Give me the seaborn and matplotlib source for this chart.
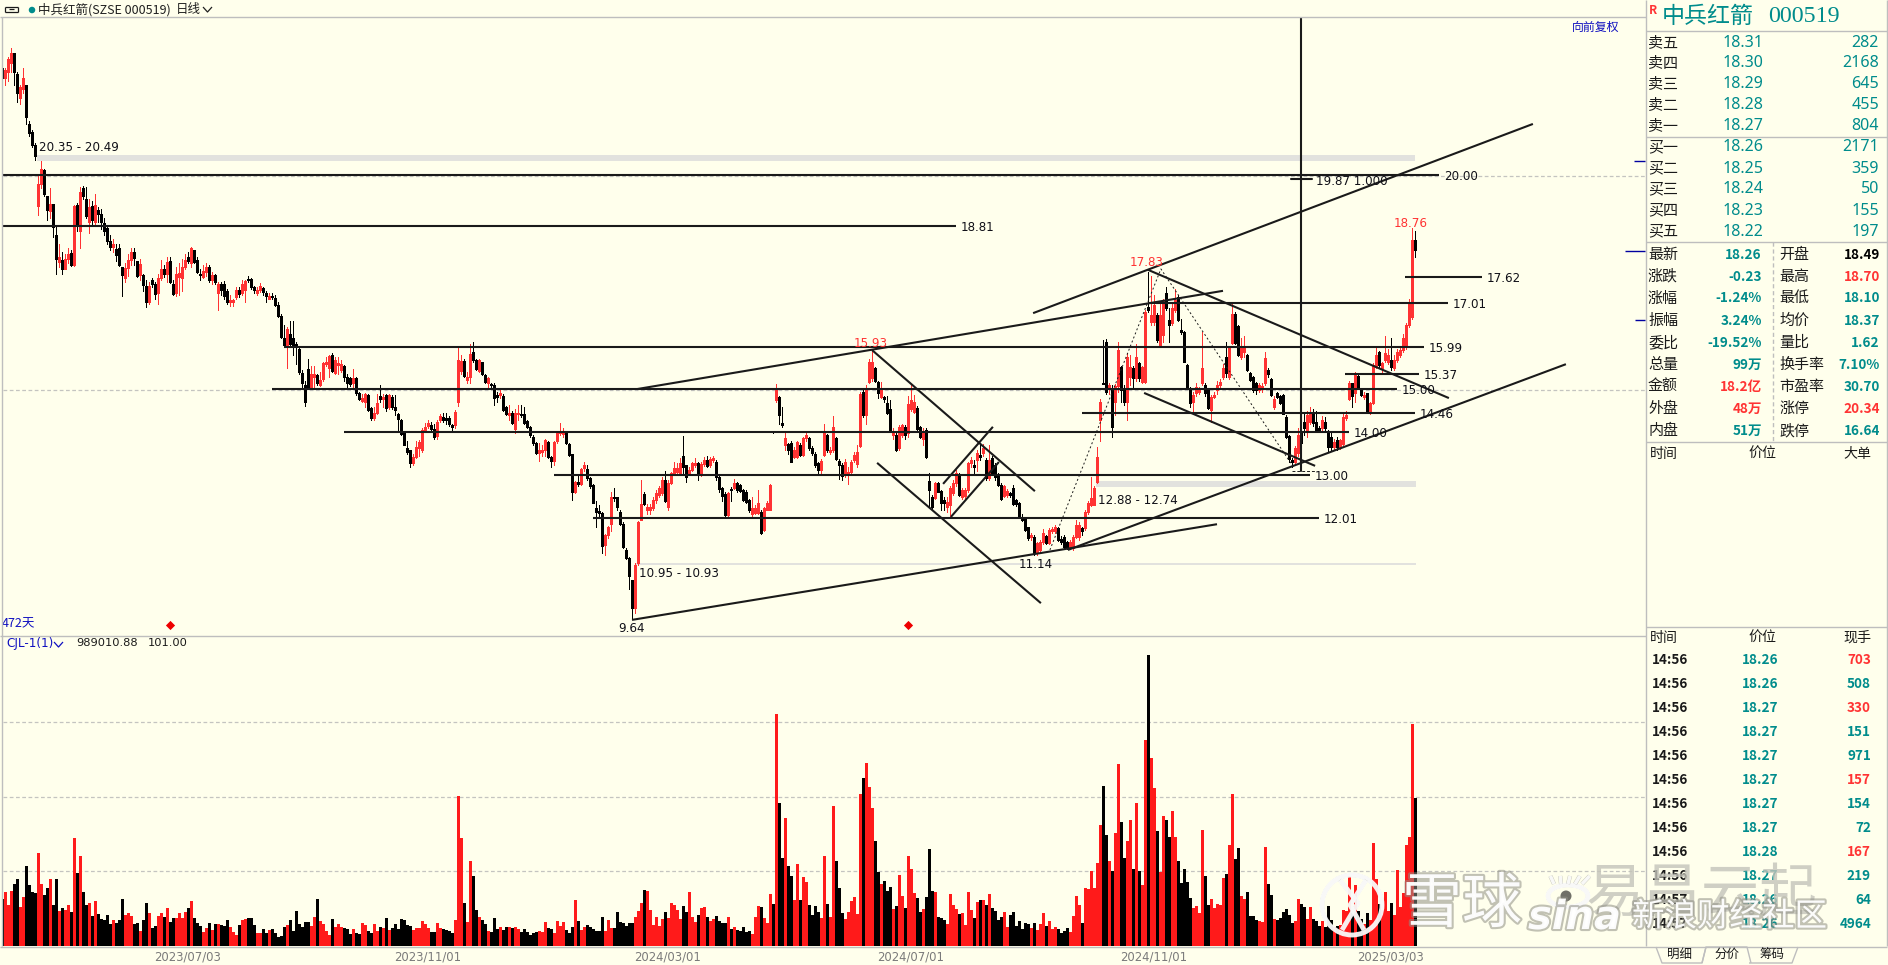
import matplotlib
matplotlib.use("Agg")
import matplotlib.pyplot as plt
import matplotlib.patheffects as pe
from matplotlib.lines import Line2D
from matplotlib.patches import Ellipse, Polygon
import numpy as np
import pandas as pd
import seaborn as sns

# ---------- candle data (yuan), one value per trading day ----------
opens = [
22.5,22.25,22.4,22.6,22.85,22.35,21.8,22.0,22.1,21.2,
21.0,20.7,19.28,19.8,20.12,19.5,19.15,19.33,18.6,17.98,
18.03,17.82,18.05,18.18,17.9,19.3,18.7,19.7,19.45,18.9,
19.28,18.9,19.18,19.1,18.87,18.77,18.45,18.33,18.28,18.3,
17.85,17.6,17.83,18.03,18.2,18.0,17.67,17.66,17.42,17.03,
17.55,17.45,17.25,17.6,17.8,17.7,18.0,17.47,17.25,17.63,
17.6,17.86,18.1,17.94,18.25,18.02,17.7,17.63,17.75,17.86,
17.55,17.67,17.25,17.45,17.45,17.3,17.05,17.05,17.15,17.33,
17.25,17.32,17.57,17.57,17.4,17.26,17.33,17.36,17.26,17.12,
17.18,17.14,16.97,16.72,16.2,16.0,16.3,16.2,16.05,15.95,
15.38,15.1,15.47,15.03,15.3,15.34,15.1,15.25,15.6,15.5,
15.8,15.39,15.57,15.45,15.55,15.3,15.26,15.14,15.27,14.93,
14.74,14.72,14.87,14.56,14.33,14.46,14.85,14.79,14.87,14.6,
14.83,14.6,14.44,14.3,13.98,13.63,13.59,13.29,13.43,13.63,
13.6,14.03,14.15,14.17,14.09,13.92,14.29,14.37,14.33,14.34,
14.17,14.17,14.72,15.42,15.66,15.22,15.3,15.88,15.69,15.42,
15.63,15.34,15.14,15.13,15.1,14.87,14.87,14.85,14.6,14.41,
14.45,14.09,14.44,14.42,14.42,14.27,14.13,13.9,13.76,13.51,
13.55,13.59,13.78,13.42,13.34,13.8,13.98,13.96,13.98,13.74,
13.49,12.6,12.85,12.8,13.16,13.14,12.93,12.77,12.23,12.16,
12.11,11.37,11.61,11.87,12.5,12.5,12.15,11.87,11.26,11.08,
10.56,9.9,10.95,11.96,12.56,12.18,12.2,12.23,12.42,12.54,
12.58,12.9,12.25,12.82,13.05,13.07,13.03,13.45,13.23,13.03,
13.12,13.24,13.28,13.01,13.26,13.36,13.24,13.36,13.32,12.97,
12.7,12.56,12.07,12.68,12.7,12.82,12.78,12.66,12.62,12.42,
12.09,12.13,12.13,12.15,11.72,12.2,12.2,14.02,14.76,14.82,
14.21,13.71,13.73,13.76,13.43,13.43,13.71,13.47,13.86,13.88,
13.63,13.5,13.28,13.12,13.47,13.94,13.55,13.59,13.86,13.33,
13.24,13.0,13.0,13.08,13.36,13.26,13.68,14.95,14.41,15.18,
15.26,15.5,15.18,14.83,14.82,14.68,14.54,13.94,13.94,13.63,
13.94,14.13,13.98,14.54,14.48,14.58,14.12,13.84,14.06,12.87,
12.5,12.46,12.81,12.64,12.42,12.27,12.31,12.58,12.81,13.01,
12.5,12.52,12.66,13.28,13.24,13.36,13.47,13.51,13.36,12.93,
13.4,13.24,13.03,12.78,12.52,12.54,12.59,12.7,12.42,12.35,
12.03,12.0,11.79,11.57,11.57,11.2,11.26,11.45,11.58,11.43,
11.71,11.71,11.76,11.52,11.57,11.45,11.3,11.3,11.57,11.57,
11.76,11.76,12.15,12.31,12.31,12.85,14.29,15.15,16.1,15.03,
14.99,14.72,15.07,15.53,14.99,14.72,15.3,15.49,15.26,15.61,
15.18,15.18,16.93,16.58,16.58,16.74,16.0,16.27,17.24,16.62,
16.54,16.85,17.16,16.39,16.35,15.57,15.03,14.72,14.91,14.95,
15.14,15.1,14.99,14.52,14.83,14.99,15.1,15.3,15.76,15.3,
16.08,16.77,16.48,15.76,15.88,15.8,15.38,15.3,15.16,14.99,
15.03,15.14,15.45,15.24,14.6,14.93,14.85,14.87,14.37,13.92,
13.36,13.32,13.51,14.0,14.25,14.02,14.25,14.46,14.25,14.1,
14.1,14.25,13.98,13.9,13.67,13.82,13.67,13.74,14.33,14.79,
15.14,14.91,15.31,14.99,14.83,14.91,14.48,14.68,15.53,15.87,
15.49,15.69,15.65,15.69,15.49,15.69,15.8,15.92,16.0,16.5,16.7,18.49]

closes = [
22.25,22.45,22.7,22.85,22.4,21.9,22.05,22.25,21.35,20.98,
20.7,20.45,19.8,20.13,19.55,19.18,19.32,18.78,18.05,18.1,
17.82,18.05,18.17,17.9,19.28,18.85,19.6,19.5,19.05,19.25,
18.95,19.3,19.1,18.9,18.7,18.45,18.32,18.38,18.13,17.9,
17.68,17.83,18.03,18.2,18.07,17.65,17.92,17.43,17.03,17.42,
17.45,17.22,17.6,17.82,17.7,17.98,17.5,17.22,17.7,17.71,
17.86,18.02,18.0,18.29,17.98,17.75,17.67,17.76,17.86,17.55,
17.67,17.5,17.45,17.32,17.17,17.05,17.08,17.08,17.33,17.22,
17.46,17.52,17.55,17.38,17.32,17.33,17.41,17.28,17.17,17.18,
17.16,16.97,16.72,16.23,16.04,16.42,16.07,16.0,16.0,15.4,
15.14,14.72,15.05,15.36,15.36,15.14,15.22,15.62,15.65,15.77,
15.44,15.69,15.61,15.6,15.3,15.16,15.13,15.26,14.91,14.77,
14.8,14.89,14.52,14.33,14.46,14.69,14.77,14.82,14.56,14.87,
14.6,14.52,14.31,13.96,13.71,13.55,13.28,13.43,13.67,13.78,
14.05,14.13,14.23,14.09,13.89,14.25,14.38,14.3,14.3,14.2,
14.13,14.48,15.69,15.66,15.31,15.28,15.83,15.69,15.47,15.69,
15.36,15.18,15.26,15.1,14.8,14.83,14.91,14.52,14.43,14.45,
14.21,14.45,14.46,14.4,14.21,14.12,13.94,13.76,13.51,13.59,
13.59,13.82,13.42,13.34,13.78,13.98,14.02,14.01,13.76,13.47,
12.6,12.85,12.8,13.14,13.24,12.93,12.76,12.36,12.15,12.12,
11.35,11.61,11.8,12.5,12.46,12.25,11.87,11.32,11.07,10.65,
9.9,10.92,11.92,12.33,12.32,12.27,12.27,12.42,12.58,12.7,
12.9,12.4,12.82,13.05,13.16,13.18,13.28,13.2,12.97,13.12,
13.29,13.29,13.01,13.26,13.36,13.22,13.37,13.4,12.97,12.67,
12.52,12.07,12.58,12.66,12.82,12.66,12.64,12.42,12.37,12.2,
12.23,12.23,12.35,11.65,12.23,12.35,12.77,14.0,14.99,14.41,
14.17,13.86,13.58,13.32,13.59,13.77,13.47,13.86,13.94,13.63,
13.51,13.24,13.12,13.33,13.98,13.6,13.6,14.12,13.37,13.24,
12.98,13.32,13.08,13.32,13.47,13.55,14.9,14.41,15.03,15.65,
15.65,15.2,14.93,14.99,14.77,14.46,14.06,13.98,13.59,14.13,
14.17,13.94,14.66,14.76,14.72,14.09,13.9,14.02,13.42,12.66,
12.27,12.81,12.62,12.35,12.36,12.38,12.7,12.81,13.05,12.54,
12.66,12.66,13.28,13.36,13.2,13.53,13.43,13.63,12.93,13.36,
13.05,12.97,12.78,12.44,12.74,12.64,12.54,12.33,12.33,12.05,
11.96,11.72,11.55,11.61,11.2,11.42,11.45,11.65,11.43,11.72,
11.74,11.79,11.49,11.45,11.34,11.3,11.45,11.57,11.84,11.84,
11.69,12.15,12.36,12.46,12.7,13.43,14.72,15.13,14.95,15.1,
14.13,15.07,15.92,14.99,14.72,15.76,15.53,15.26,15.76,15.26,
15.53,16.81,16.85,16.74,16.97,16.15,16.74,17.08,16.89,16.5,
16.89,17.08,16.63,16.35,15.65,15.03,14.68,14.87,15.06,14.99,
15.49,14.91,14.56,14.83,14.87,15.1,15.18,15.49,15.38,15.96,
16.77,16.08,15.8,15.96,15.96,15.45,15.22,14.99,14.99,15.1,
15.07,15.73,15.36,14.87,14.79,14.83,14.68,14.44,13.9,13.37,
13.32,13.63,13.94,13.75,14.1,14.4,14.48,14.21,14.06,14.06,
14.29,14.1,13.67,13.67,13.78,13.67,13.82,14.37,14.4,15.14,
14.85,15.34,15.03,14.87,14.87,14.48,14.68,15.57,15.8,15.57,
15.61,15.84,15.8,15.53,15.69,15.88,15.92,16.19,16.5,17.05,18.48,18.26]

highs = [
22.55,22.5,22.75,22.95,22.85,22.4,22.1,22.5,22.1,21.25,
21.05,20.75,20.0,20.33,20.15,19.5,19.7,19.33,18.8,18.4,
18.2,18.15,18.3,18.25,19.3,19.35,19.72,19.75,19.72,19.45,
19.4,19.55,19.25,19.2,19.0,18.8,18.6,18.5,18.4,18.4,
17.85,17.95,18.15,18.3,18.3,18.0,18.05,17.7,17.55,17.5,
17.6,17.5,17.7,18.02,17.9,18.1,18.08,17.55,17.85,17.95,
18.05,18.15,18.2,18.32,18.25,18.1,17.8,17.9,17.95,17.9,
17.75,17.7,17.5,17.5,17.52,17.35,17.2,17.1,17.4,17.4,
17.55,17.55,17.65,17.6,17.42,17.4,17.48,17.4,17.3,17.25,
17.25,17.2,17.05,16.75,16.5,16.45,16.6,16.6,16.1,16.0,
15.45,15.2,15.7,15.55,15.55,15.36,15.4,15.65,15.75,15.8,
15.85,15.75,15.75,15.68,15.58,15.35,15.28,15.48,15.3,14.95,
14.9,14.93,14.9,14.6,14.6,14.9,15.1,14.9,14.9,14.9,
14.88,14.88,14.45,14.32,14.0,13.8,13.6,13.5,13.8,13.82,
14.1,14.22,14.3,14.25,14.2,14.3,14.42,14.45,14.45,14.38,
14.2,14.52,16.0,15.8,15.7,15.4,16.05,16.1,15.7,15.7,
15.65,15.36,15.3,15.15,15.15,14.95,15.02,14.9,14.62,14.65,
14.5,14.55,14.65,14.65,14.6,14.3,14.15,13.95,13.78,13.75,
13.7,13.85,13.8,13.45,13.8,14.0,14.22,14.1,14.02,13.75,
13.5,12.87,13.0,13.17,13.3,13.25,12.95,12.8,12.4,12.3,
12.15,11.63,11.82,12.6,12.7,12.5,12.2,11.9,11.3,11.1,
10.56,10.95,11.93,12.9,12.6,12.32,12.33,12.5,12.65,12.75,
12.95,13.1,12.88,13.08,13.3,13.28,13.4,13.92,13.25,13.2,
13.32,13.4,13.3,13.3,13.42,13.45,13.42,13.45,13.35,13.0,
12.72,12.6,12.6,12.72,12.92,12.85,12.8,12.68,12.65,12.45,
12.5,12.3,12.65,12.18,12.25,12.4,12.8,14.02,15.12,14.85,
14.6,14.0,13.75,13.8,13.65,13.8,13.75,13.9,14.02,13.9,
13.68,13.55,13.3,13.38,14.2,13.96,13.65,14.38,13.9,13.38,
13.28,13.38,13.2,13.35,13.55,13.7,14.95,15.0,15.1,15.72,
15.93,15.53,15.2,15.18,14.85,14.85,14.75,14.1,13.98,14.17,
14.2,14.17,14.85,15.1,14.87,14.62,14.15,14.1,14.1,13.05,
12.55,12.85,12.85,12.65,12.5,12.5,12.75,12.9,13.12,13.05,
12.7,12.7,13.32,13.42,13.35,13.58,13.7,13.72,13.4,13.7,
13.45,13.28,13.05,12.82,12.78,12.68,12.62,12.78,12.45,12.38,
12.1,12.0,11.8,11.66,11.6,11.45,11.5,11.75,11.62,11.76,
11.8,11.85,11.8,11.58,11.6,11.48,11.5,11.62,11.95,11.9,
11.8,12.2,12.4,12.96,12.75,13.67,14.78,16.15,16.18,15.15,
15.1,15.12,16.1,15.55,15.1,15.85,15.8,15.55,16.05,15.65,
15.55,16.85,17.75,17.65,17.2,16.78,17.03,17.1,17.38,16.9,
17.0,17.35,17.2,16.65,16.37,15.6,15.05,14.95,15.15,15.05,
16.35,15.15,15.02,14.87,14.95,15.2,15.25,15.6,16.1,16.0,
17.05,16.8,16.5,16.2,16.25,15.82,15.4,15.32,15.18,15.15,
15.15,15.88,15.5,15.26,14.85,14.95,14.88,14.9,14.4,13.95,
13.4,13.68,14.1,14.1,14.45,14.5,14.6,14.55,14.5,14.15,
14.38,14.35,14.05,14.02,13.85,13.9,13.85,14.42,14.5,15.2,
15.16,15.4,15.33,15.02,14.95,14.93,14.72,15.62,16.02,15.9,
15.65,16.25,15.95,16.2,15.8,15.95,16.0,16.3,16.55,17.1,18.76,18.7]

lows = [
22.05,22.1,22.2,22.4,22.1,21.7,21.65,21.9,21.2,20.9,
20.65,20.35,19.07,19.7,19.5,18.95,19.0,18.56,17.7,17.85,
17.7,17.8,17.95,17.88,17.88,18.7,18.3,19.45,19.0,18.65,
18.8,18.85,18.9,18.75,18.6,18.4,18.25,18.2,18.0,17.88,
17.18,17.5,17.65,17.9,17.9,17.63,17.55,17.3,16.92,17.0,
17.4,17.1,17.0,17.55,17.62,17.5,17.48,17.2,17.18,17.2,
17.3,17.8,17.95,17.85,17.95,17.72,17.55,17.6,17.65,17.5,
17.45,17.45,16.85,17.2,17.1,17.0,16.95,16.95,17.1,17.15,
17.2,17.05,17.5,17.35,17.25,17.2,17.28,17.2,17.05,17.1,
17.1,16.95,16.7,16.2,16.0,15.5,16.0,15.8,15.6,15.37,
15.0,14.62,15.0,15.0,15.0,15.1,15.08,15.2,15.55,15.3,
15.4,15.35,15.35,15.4,15.2,15.05,15.08,15.05,14.88,14.75,
14.7,14.6,14.5,14.3,14.3,14.42,14.7,14.6,14.5,14.55,
14.55,14.4,14.0,13.94,13.7,13.5,13.2,13.25,13.4,13.45,
13.55,14.0,14.1,14.05,13.85,13.85,14.25,14.25,14.2,14.15,
14.0,14.1,14.62,15.35,15.3,15.15,15.15,15.65,15.45,15.4,
15.33,15.15,15.05,15.05,14.65,14.7,14.8,14.5,14.4,14.3,
14.2,13.98,14.3,14.35,14.2,14.1,13.9,13.7,13.5,13.34,
13.45,13.45,13.4,13.2,13.25,13.75,13.95,13.9,13.74,13.45,
12.42,12.58,12.75,12.78,13.1,12.9,12.7,12.35,11.8,12.0,
11.2,11.14,11.55,11.7,12.4,12.2,11.85,11.3,11.05,10.35,
9.64,9.78,10.9,11.95,12.3,12.1,12.1,12.2,12.35,12.5,
12.55,12.38,12.2,12.8,13.0,13.02,13.0,13.05,12.85,13.0,
13.1,13.2,12.88,12.98,13.22,13.2,13.2,13.3,12.9,12.6,
12.4,12.0,12.05,12.4,12.68,12.6,12.6,12.4,12.35,12.15,
12.05,12.1,12.1,11.63,11.7,12.18,12.18,13.98,14.7,14.2,
14.13,13.6,13.5,13.3,13.4,13.4,13.45,13.45,13.8,13.6,
13.48,13.2,13.0,13.05,13.45,13.55,13.5,13.55,13.35,12.92,
12.9,12.95,12.8,13.05,13.3,13.2,13.66,14.35,14.2,15.15,
15.2,15.18,14.8,14.8,14.72,14.43,14.04,13.85,13.57,13.6,
13.9,13.85,13.9,14.5,14.45,14.05,13.88,13.7,13.4,12.27,
12.2,12.44,12.6,12.2,12.2,12.15,12.0,12.55,12.75,12.52,
12.45,12.48,12.62,13.2,13.0,13.1,13.35,13.45,12.9,12.9,
13.0,12.9,12.75,12.42,12.5,12.5,12.5,12.3,12.28,12.02,
11.93,11.7,11.5,11.5,11.15,11.14,11.2,11.4,11.4,11.4,
11.65,11.65,11.47,11.4,11.3,11.28,11.28,11.25,11.55,11.5,
11.6,11.72,12.1,12.28,12.3,12.82,13.8,15.13,14.9,14.9,
13.9,14.4,14.95,14.7,14.65,14.3,15.1,15.05,15.2,15.2,
15.15,15.15,16.8,16.5,16.5,16.1,15.98,16.1,16.85,16.1,
16.5,16.8,16.6,16.3,15.63,15.0,14.6,14.45,14.85,14.9,
15.1,14.85,14.54,14.25,14.8,14.9,15.05,15.25,15.3,15.25,
16.05,16.05,15.78,15.7,15.75,15.43,15.2,14.95,14.9,14.95,
14.95,15.1,15.3,14.85,14.55,14.8,14.66,14.42,13.88,13.3,
13.2,13.28,13.45,13.5,13.95,13.9,14.2,14.15,14.02,14.0,
14.05,14.0,13.55,13.6,13.62,13.6,13.62,13.7,14.28,14.75,
14.6,14.7,15.0,14.85,14.78,14.46,14.42,14.66,15.5,15.53,
15.4,15.65,15.6,15.45,15.45,15.65,15.75,15.88,15.95,16.45,16.65,18.1]

# volume in units of 10 000 lots
volumes = [
31.3,36,27.3,36.7,41.3,44.7,26,32.7,53.3,40.7,
36,35.3,62,41.3,34,38.7,44.7,27.3,44.7,23.3,
25.3,24,27.3,22.7,72,48.7,60,36,27.3,28.7,
20,30,21.3,18,17.3,20.7,14.7,17.3,15.3,17.3,
31.3,20.7,22,20,14.7,15.3,10,17.3,28.7,22,
12,13.3,20,22,19.3,25.3,16,18.7,18.7,21.8,
18.7,22.7,25.3,30,18.7,15.3,13.3,9.3,12,15.3,
10.7,14.7,14.7,14,13.3,17.3,12.7,9.3,7.3,14,
17.3,18,18.7,18.7,14,8.7,8.7,11.3,8.7,10.7,
11.3,8.7,6,6.7,12.7,14,17.3,10,23.3,14.7,
12.7,16,16,13.3,19.3,31.3,16.7,14.7,10,7.3,
18,12.7,14.7,12.7,12,11.3,8,11.3,8.7,8,
15.3,14,10,8.7,14.7,10,12.7,12,18.7,10.7,
12,14.7,11.3,18,17.3,14,13.3,10.7,12,12,
16.7,14.7,12,9.3,9.3,15.3,12,11.3,10.7,10,
8.7,17.3,100.7,72,28.7,16,56.7,46.7,24,19.3,
17.3,14.7,10,9.3,18.7,11.3,12.7,10.7,12.7,12.7,
12,12.7,11.3,9.3,11.3,9.3,7.3,8.7,9.3,10,
9.3,16,12,11.3,8.7,16.7,13.3,16,10.7,8.7,
12.7,30.7,16.7,10.7,12.7,14,12.7,11.3,10,10,
19.3,10,17.3,12,12,22.7,16,15.3,13.3,15.3,
15.3,19.3,23.3,28.7,37.3,36.7,24,14,19.3,13.3,
18,22.7,18.7,28.7,27.3,24,18,26.7,22.7,36,
19.3,16,20.7,25.6,26,19.3,16.7,18.4,20,16.7,
15.3,15.3,19.3,11.3,12.7,10.7,10,12.7,9.3,10,
8,19.3,26.7,26,18.7,15.3,34.7,28,155.3,96,
58.7,86,53.3,46.7,30.7,54.7,30.7,46,42.7,27.3,
20.7,26.7,22.7,18.7,60,28,19.3,94,56.7,38.7,
22,18,22.7,30,32.7,21.3,102,112.7,122.7,106.7,
92.7,70,49.3,41.3,43.3,36.7,39.3,24.7,26.7,47.3,
33.3,25.3,60,51.3,35.3,32,22.7,24.7,32.7,64.7,
36.7,36,19.3,18.7,17.3,14.7,34.7,27.3,24.7,21.3,
22,14,36,24,18.7,29.3,30.7,30.7,27.3,34.7,
25.3,23.3,17.3,19.3,22.7,12.7,20.7,22.7,13.3,16.7,
11.3,15.3,14.7,12,15.3,10.7,14.7,22,13.3,16.7,
11.3,12.7,11.3,8.7,10,12,9.3,20,33.3,27.3,
15.3,38.7,38,50,38.7,55.3,81.3,107.3,74,56.7,
50,76,122,83.3,58.7,70,84.7,51.3,96,50,
40.7,138,194.7,126,106,77.3,49.3,87.3,84.7,73.3,
90.7,73.3,56.7,42,51.3,42.7,32,25.3,26.7,22,
78,46.7,27.3,31.3,25.3,28,27.3,45.3,48,67.3,
102,58,65.8,33.3,31.3,36,20,20,17.3,16.7,
16,66,41.3,34,18,17.3,18.7,22.7,24.7,20.7,
15.3,16.7,31.3,28,26,18,26,18,16.7,13.3,
16.7,12.7,26.7,17.3,12.7,13.3,14,24,23.3,46.7,
22,40.7,23.3,18,15,22,17.3,69.3,44.7,28,
24,36,23.3,28.7,20.7,50.7,26,35.3,67.3,72.7,148.7,98.9]

# horizontal levels: price, first bar, last bar, label
level_prices = [20.00, 18.81, 15.99, 15.00, 14.00, 13.00, 12.01, 14.46, 15.37, 17.01, 17.62]
level_starts = [-1, -1, 94, 90, 114, 184, 197, 360, 447.7, 382, 467.7]
level_ends = [479, 318, 474, 465, 449, 436, 439, 471, 472.3, 482, 493.3]

# zones: low, high, first bar, last bar
zone_lows = [20.33, 12.73, 10.92]
zone_highs = [20.47, 12.87, 10.96]
zone_starts = [11.7, 364.7, 211]
zone_ends = [471, 471.5, 471.5]
zone_labels = ["20.35 - 20.49", "12.88 - 12.74", "10.95 - 10.93"]

# trend lines: (bar, price) end points
trend_bars = [(210, 405), (355.3, 521.3), (343.7, 510.3), (211.7, 407), (290, 344.3),
              (291.7, 346.3), (313.7, 330.3), (316.3, 332.3), (382, 482.3), (380.7, 437.7)]
trend_prices = [(9.63, 11.86), (11.26, 15.59), (16.78, 21.19), (15.01, 17.30), (15.92, 12.63),
                (13.29, 10.02), (12.80, 14.13), (12.03, 13.31), (17.79, 14.80), (14.92, 13.22)]
dotted_bars = [349.3, 386.3, 430.7]
dotted_prices = [11.26, 17.81, 13.17]

date_bars = [62, 142, 222, 303, 384, 463]
date_labels = ["2023/07/03", "2023/11/01", "2024/03/01", "2024/07/01", "2024/11/01", "2025/03/03"]

# quote panel
ask_labels = ["卖五", "卖四", "卖三", "卖二", "卖一", "买一", "买二", "买三", "买四", "买五"]
book_prices = ["18.31", "18.30", "18.29", "18.28", "18.27", "18.26", "18.25", "18.24", "18.23", "18.22"]
book_sizes = ["282", "2168", "645", "455", "804", "2171", "359", "50", "155", "197"]
stat_left_names = ["最新", "涨跌", "涨幅", "振幅", "委比", "总量", "金额", "外盘", "内盘"]
stat_left_values = ["18.26", "-0.23", "-1.24%", "3.24%", "-19.52%", "99万", "18.2亿", "48万", "51万"]
stat_left_colors = ["t", "t", "t", "t", "t", "t", "r", "r", "t"]
stat_right_names = ["开盘", "最高", "最低", "均价", "量比", "换手率", "市盈率", "涨停", "跌停"]
stat_right_values = ["18.49", "18.70", "18.10", "18.37", "1.62", "7.10%", "30.70", "20.34", "16.64"]
stat_right_colors = ["k", "r", "t", "t", "t", "t", "t", "r", "t"]
tick_times = ["14:56"] * 10 + ["14:57", "14:57"]
tick_prices = ["18.26", "18.26", "18.27", "18.27", "18.27", "18.27", "18.27", "18.27", "18.28", "18.27", "18.26", "18.26"]
tick_sizes = ["703", "508", "330", "151", "971", "157", "154", "72", "167", "219", "64", "4964"]
tick_colors = ["r", "t", "r", "t", "t", "r", "t", "t", "r", "t", "t", "t"]

assert len(opens) == len(closes) == len(highs) == len(lows) == len(volumes) == 472

# ---------- style ----------
BG = "#FFFFEC"
RED = "#FF3333"
VRED = "#FF1A1A"
TEAL = "#008C8C"
GRID = "#C4C4C0"
FRAME = "#BEBEBE"
BLUE = "#1010C0"
COLS = {"r": RED, "t": TEAL, "k": "#000000"}

sns.set_theme(style="white")
plt.rcParams["font.family"] = ["Noto Sans CJK SC", "DejaVu Sans"]
plt.rcParams["axes.unicode_minus"] = False

W, H = 1888, 965
fig = plt.figure(figsize=(W / 100, H / 100), dpi=100, facecolor=BG)


def axes_px(x0, y0, x1, y1, **kw):
    return fig.add_axes([x0 / W, 1 - y1 / H, (x1 - x0) / W, (y1 - y0) / H], facecolor=BG, **kw)


# bar i sits at pixel 2 + 3 i; price p at pixel 175 + (20 - p) * 42.9
X0, X1 = 2.5, 1645.5
xlim = ((X0 - 2) / 3, (X1 - 2) / 3)
ax = axes_px(X0, 17, X1, 635)
ax.set_xlim(*xlim)
ax.set_ylim(20 - (635 - 175) / 42.9, 20 + (175 - 17) / 42.9)
ax.set_xticks([])
ax.set_yticks([])
for s in ax.spines.values():
    s.set_visible(False)

df = pd.DataFrame({"bar": np.arange(472), "o": opens, "c": closes, "h": highs, "l": lows, "v": volumes})
df["side"] = np.where(df.c >= df.o, "up", "down")
candle_cols = np.where(df.c >= df.o, RED, "#000000")

# grid
for p in (19.98, 14.99):
    ax.axhline(p, color=GRID, lw=0.9, ls=(0, (3, 2)), zorder=0)

# zones
for lo, hi, s, e in zip(zone_lows, zone_highs, zone_starts, zone_ends):
    ax.fill_between([s, e], lo, hi, color="#E2E2DE", lw=0, zorder=1)

# candles: one-pixel wicks, three-pixel bodies, crisp like the terminal
ax.vlines(df.bar, df.l, df.h, colors=candle_cols, lw=0.72, zorder=3, antialiaseds=False, snap=True)
ax.vlines(df.bar, df[["o", "c"]].min(axis=1), df[["o", "c"]].max(axis=1),
          colors=candle_cols, lw=2.16, zorder=3, antialiaseds=False, snap=True)

# drawn levels and lines
for p, s, e in zip(level_prices, level_starts, level_ends):
    ax.plot([s, e], [p, p], color="k", lw=1.5, solid_capstyle="butt", zorder=4)
for b, p in zip(trend_bars, trend_prices):
    ax.plot(b, p, color="k", lw=1.5, solid_capstyle="butt", zorder=4)
ax.plot(dotted_bars, dotted_prices, color="k", lw=0.7, ls=(0, (2, 2.5)), zorder=4)
ax.plot([433, 433], [13.1, 24], color="k", lw=1.5, zorder=4)
ax.plot([429.7, 436.7], [19.9, 19.9], color="k", lw=1.5, zorder=4)
ax.plot([430, 438], [13.1, 13.1], color="k", lw=0.7, ls=(0, (3, 2)), zorder=4)

TXT = dict(fontsize=8.6, color="#101018", family=["DejaVu Sans"], zorder=6, va="center")
for p, e in zip(level_prices, level_ends):
    ax.annotate(f"{p:.2f}", (e, p), xytext=(5, -1.5), textcoords="offset pixels", ha="left", **TXT)
ax.text(12.4, 20.64, zone_labels[0], ha="left", **TXT)
ax.text(365.3, 12.42, zone_labels[1], ha="left", **TXT)
ax.text(212.3, 10.72, zone_labels[2], ha="left", **TXT)
ax.text(210, 9.44, "9.64", ha="center", **TXT)
ax.text(344.7, 10.93, "11.14", ha="center", **TXT)
ax.text(438, 19.85, "19.87 1.000", ha="left", **TXT)
RT = dict(TXT, color=RED)
ax.text(289.7, 16.08, "15.93", ha="center", **RT)
ax.text(381.7, 17.95, "17.83", ha="center", **RT)
ax.text(469.7, 18.88, "18.76", ha="center", **RT)

# signal diamonds
ax.scatter([56, 302], [9.52, 9.52], marker="D", s=22, color="#EE0000", lw=0, zorder=5)
ax.text(0, 9.53, "472天", color=BLUE, fontsize=9, ha="left", va="center")
ax.text(1620 / 3 - 1, 23.45, "向前复权", color=BLUE, fontsize=8.6, ha="right", va="center")

# volume pane
axv = axes_px(X0, 635, X1, 946)
sns.barplot(data=df, x="bar", y="v", hue="side", palette={"up": VRED, "down": "#000000"},
            native_scale=True, width=1.0, dodge=False, legend=False, saturation=1,
            linewidth=0, ax=axv)
# each bar fills its three-pixel slot without blurred edges
for patch in axv.patches:
    centre = patch.get_x() + patch.get_width() / 2
    patch.set_x(centre - 0.48)
    patch.set_width(1.0)
    patch.set_antialiased(False)
    patch.set_snap(True)
axv.set_facecolor(BG)
axv.set_xlim(*xlim)
axv.set_ylim(0, 311 / (224 / 150))
axv.set_xlabel("")
axv.set_ylabel("")
axv.set_yticks([])
axv.set_xticks(date_bars)
axv.set_xticklabels(date_labels, fontsize=8.4, color="#7A7A7A", family=["DejaVu Sans"])
axv.tick_params(axis="x", length=0, pad=3)
for s in axv.spines.values():
    s.set_visible(False)
for v in (50, 100, 150):
    axv.axhline(v, color=GRID, lw=0.9, ls=(0, (3, 2)), zorder=0)
axv.set_axisbelow(True)

# ---------- overlay in pixel coordinates ----------
ov = fig.add_axes([0, 0, 1, 1], facecolor="none")
ov.set_xlim(0, W)
ov.set_ylim(H, 0)
ov.axis("off")


def ln(xs, ys, c=FRAME, lw=1.0, ls="-", **kw):
    ov.add_line(Line2D(xs, ys, color=c, lw=lw, ls=ls, solid_capstyle="butt", **kw))


def tx(x, y, s, fs=15, c="k", ha="left", w="normal", fam=None, **kw):
    ov.text(x, y, s, fontsize=fs * 0.72, color=c, ha=ha, va="center", fontweight=w,
            family=fam or ["Noto Sans CJK SC", "DejaVu Sans"], **kw)


# frame
ln([0, 1646], [17, 17])
ln([0, 1646], [635.5, 635.5])
ln([1.5, 1.5], [17, 946])
ln([1645.5, 1645.5], [0, 946])
ln([1887, 1887], [0, 946])
ln([1645.5, 1887], [30.5, 30.5])
ln([1645.5, 1887], [137, 137])
ln([1645.5, 1887], [242, 242])
ln([1645.5, 1887], [442, 442])
ln([1645.5, 1887], [627, 627])
ln([0, 1887], [946.5, 946.5])
ln([1773, 1773], [242, 442], ls=(0, (3, 2)))

# header strip
ln([5, 18], [6.5, 6.5], "k", 0.9)
ln([5, 18], [11.5, 11.5], "k", 0.9)
ln([5, 5], [6.5, 11.5], "k", 0.9)
ln([18, 18], [6.5, 11.5], "k", 0.9)
ln([9, 14], [9, 9], "k", 0.9)
ov.add_patch(Ellipse((32, 10), 6.5, 6.5, color=TEAL, lw=0))
tx(38.5, 9.5, "中兵红箭(SZSE 000519)", 12.5, "#202020")
tx(176, 9.5, "日线", 12.5, "#202020")
ln([203, 207.5, 212], [7, 12, 7], "#202020", 0.9)

# indicator caption
tx(6.5, 643, "CJL-1(1)", 12, BLUE, fam=["DejaVu Sans"])
tx(76, 643, "989010.88", 11.5, "k", fam=["DejaVu Sans"])
tx(148, 643, "101.00", 11.5, "k", fam=["DejaVu Sans"])
ln([54, 58.5, 63], [642, 647, 642], BLUE, 0.9)

# price-axis markers
ln([1634, 1645], [161, 161], "#0000A0", 1)
ln([1625, 1645], [250.5, 250.5], "#0000A0", 1)
ln([1635, 1645], [320, 320], "#0000A0", 1)

# title
tx(1649, 11, "R", 12, RED, w="bold")
tx(1662, 16, "中兵红箭", 23, TEAL)
tx(1768, 16, "000519", 24, TEAL, fam=["Liberation Serif"])

book_y = [42.7, 63.3, 84.3, 105.3, 126.3, 147.3, 168.7, 189.3, 210.7, 231.7]
for y, a, p, s in zip(book_y, ask_labels, book_prices, book_sizes):
    tx(1648, y, a, 15)
    tx(1723, y, p, 16, TEAL, fam=["Noto Sans"])
    tx(1879, y, s, 16, TEAL, ha="right", fam=["Noto Sans"])

stat_y = [255, 276.7, 298.3, 320.7, 342.7, 365, 386.7, 409, 431]
for i, y in enumerate(stat_y):
    tx(1648, y, stat_left_names[i], 15)
    tx(1762, y, stat_left_values[i], 13.5, COLS[stat_left_colors[i]], ha="right", w="bold")
    tx(1779, y, stat_right_names[i], 15)
    tx(1880, y, stat_right_values[i], 13.5, COLS[stat_right_colors[i]], ha="right", w="bold")

for y, third in ((454, "大单"), (638, "现手")):
    tx(1650, y, "时间", 14)
    tx(1762, y, "价位", 14, ha="center")
    tx(1857, y, third, 14, ha="center")

tick_y = [660, 684, 708, 732, 756, 780, 804, 828, 852, 876, 900, 924]
for y, t, p, s, c in zip(tick_y, tick_times, tick_prices, tick_sizes, tick_colors):
    tx(1652, y, t, 13.5, "k", w="bold")
    tx(1760, y, p, 13.5, TEAL, ha="center", w="bold")
    tx(1871, y, s, 13.5, COLS[c], ha="right", w="bold")

# tabs
ln([1656, 1662, 1702, 1706], [947, 963, 963, 947])
ln([1702, 1706, 1747, 1751], [963, 947, 947, 963])
ln([1749, 1753, 1792, 1798], [963, 963, 963, 947])
tx(1680, 954, "明细", 12.5, ha="center")
tx(1727, 954, "分价", 12.5, ha="center")
tx(1772, 954, "筹码", 12.5, ha="center")

# watermark
shadow = [pe.withStroke(linewidth=3, foreground="#8E8E84", alpha=0.55)]
wm = dict(alpha=0.95, path_effects=shadow, zorder=20)
lk = dict(alpha=0.9, zorder=20, path_effects=shadow)
ov.add_patch(Ellipse((1352, 905), 60, 60, fill=False, ec="white", lw=3.5, **lk))
ln([1340, 1358, 1342], [880, 903, 930], "white", 3.5, **lk)
ln([1366, 1350, 1364], [880, 905, 930], "white", 3.5, **lk)
tx(1586, 895, "易昌云起", 58, "#C4C4BA", alpha=0.8, zorder=19)
tx(1402, 905, "雪球", 60, "white", **wm)
ov.add_patch(Ellipse((1568, 896), 40, 22, fill=False, ec="white", lw=3.5, **lk))
ov.add_patch(Ellipse((1566, 896), 11, 11, color="#707068", lw=0, zorder=20))
for dx in (-14, -7, 0, 7, 14):
    ln([1568 + dx, 1570 + dx * 1.4], [884, 876], "white", 2.5, **lk)
tx(1528, 918, "sina", 40, "white", w="bold", fam=["DejaVu Sans"], style="italic", **wm)
tx(1632, 917, "新浪财经社区", 32.5, "white", **wm)

fig.savefig("out.png", dpi=100, facecolor=BG)
